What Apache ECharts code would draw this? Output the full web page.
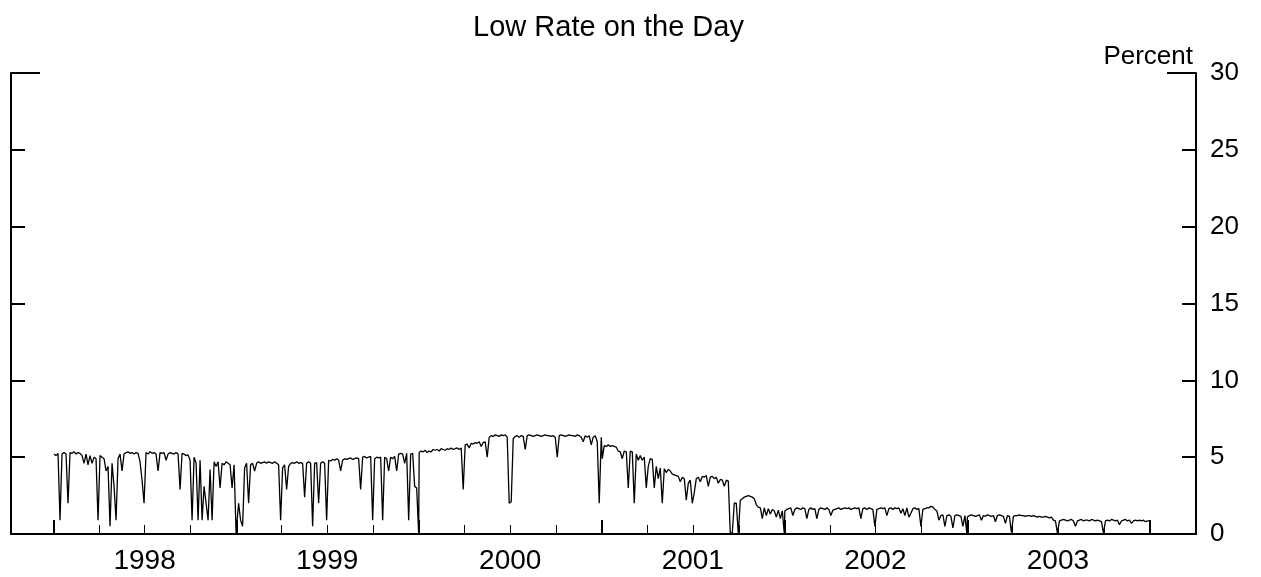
<!DOCTYPE html>
<html>
<head>
<meta charset="utf-8">
<script src="https://cdn.jsdelivr.net/npm/echarts@6/dist/echarts.min.js"></script>
<style>
  html, body { margin: 0; padding: 0; background: #fff; }
  #chart { width: 1261px; height: 577px; }
</style>
</head>
<body>
<div id="chart"></div>
<script>
// Low rate on the day, percent. One value every 4 days from Jan 1 of each year.
const rate1998 = [
  5.2, 5.1, 5.25, 0.9, 5.2, 5.3, 5.2, 2.0, 5.3, 5.25,
  5.35, 5.2, 5.3, 5.25, 5.1, 4.6, 5.2, 4.5, 5.1, 4.6,
  5.0, 4.9, 0.9, 5.1, 5.0, 4.9, 4.1, 4.4, 0.5, 4.6,
  3.1, 0.9, 4.9, 5.2, 4.1, 5.2, 5.3, 5.35, 5.25, 5.3,
  5.2, 5.3, 5.25, 4.7, 3.5, 2.0, 5.3, 5.2, 5.35, 5.25,
  5.3, 5.2, 4.1, 5.3, 5.25, 5.3, 4.8, 5.2, 5.3, 5.25,
  5.2, 5.3, 5.2, 2.9, 5.25, 5.2, 5.1, 5.15, 4.8, 0.9,
  5.0, 4.6, 0.9, 4.8, 0.9, 3.1, 2.0, 0.9, 4.2, 0.9,
  4.7, 4.4, 4.7, 3.0, 4.6, 4.5, 4.7, 4.6, 4.5, 3.0,
  4.5, 0.0
];
const rate1999 = [
  0.5, 2.0, 0.9, 0.5, 4.3, 4.6, 2.0, 4.5, 4.6, 4.1,
  4.6, 4.7, 4.6, 4.65, 4.7, 4.6, 4.7, 4.65, 4.6, 4.7,
  4.6, 4.5, 0.9, 4.3, 4.5, 2.9, 4.4, 4.6, 4.65, 4.6,
  4.7, 4.6, 4.65, 4.6, 2.4, 4.6, 4.7, 4.6, 0.5, 4.6,
  4.65, 2.0, 4.6, 4.7, 4.6, 0.9, 4.8, 4.75, 4.85, 4.8,
  4.9, 4.8, 4.1, 4.8, 4.9, 4.85, 4.9, 4.95, 4.85, 4.9,
  4.95, 4.9, 2.9, 5.0, 5.05, 4.95, 5.0, 5.05, 0.9, 4.9,
  5.0, 4.95, 5.0, 0.9, 5.0, 4.9, 4.1, 5.0, 4.9, 5.05,
  4.1, 5.2, 5.25, 5.2, 4.6, 5.25, 0.9, 5.2, 5.25, 3.1,
  3.0, 0.0
];
const rate2000 = [
  5.3, 5.4, 5.35, 5.45, 5.3, 5.4, 5.35, 5.5, 5.45, 5.5,
  5.4, 5.55, 5.5, 5.45, 5.55, 5.5, 5.6, 5.5, 5.55, 5.6,
  5.5, 5.6, 2.9, 5.8, 5.85, 5.6, 5.9, 5.85, 5.95, 5.9,
  6.0, 5.7, 5.95, 6.0, 5.0, 6.3, 6.4, 6.35, 6.45, 6.4,
  6.35, 6.45, 6.4, 6.45, 6.3, 2.0, 2.1, 6.2, 6.35, 6.4,
  6.3, 6.4, 6.35, 5.5, 6.4, 6.45, 6.4, 6.35, 6.4, 6.45,
  6.4, 6.35, 6.4, 6.45, 6.4, 6.4, 6.35, 6.4, 6.3, 5.0,
  6.4, 6.45, 6.4, 6.35, 6.4, 6.45, 6.4, 6.4, 6.35, 6.45,
  6.4, 6.3, 6.0, 6.4, 6.3, 6.4, 5.8, 6.3, 6.4, 6.0,
  2.0, 6.3
];
const rate2001 = [
  4.9, 5.75, 5.7, 5.8, 5.7, 5.75, 5.7, 5.65, 5.4, 5.35,
  4.9, 5.4, 5.35, 3.0, 5.4, 5.35, 2.0, 5.2, 4.8, 5.1,
  4.8, 5.0, 3.0, 4.4, 4.9, 4.85, 3.0, 4.4, 3.6, 4.3,
  2.0, 4.25, 4.0, 4.2, 4.1, 3.9, 3.85, 3.8, 3.75, 3.4,
  3.7, 3.6, 2.2, 3.3, 3.5, 2.0, 2.7, 3.6, 3.7, 3.4,
  3.75, 3.7, 3.8, 3.1, 3.7, 3.75, 3.6, 3.7, 3.3, 3.55,
  3.5, 3.1, 3.5, 3.45, 0.0, 0.1, 2.0, 2.0, 0.0, 2.2,
  2.3, 2.4, 2.45, 2.5, 2.45, 2.4, 2.3, 1.9, 1.75, 1.7,
  1.0, 1.7, 1.2, 1.65, 1.3, 1.6, 1.5, 1.1, 1.55, 1.0,
  1.5, 0.0
];
const rate2002 = [
  1.5, 1.6, 1.65, 1.7, 1.2, 1.6, 1.7, 1.65, 1.6, 1.7,
  1.65, 1.0, 1.6, 1.7, 1.6, 1.65, 1.0, 1.6, 1.7, 1.65,
  1.6, 1.7, 1.6, 1.2, 1.55, 1.6, 1.65, 1.7, 1.6, 1.65,
  1.7, 1.65, 1.7, 1.6, 1.65, 1.7, 1.65, 1.7, 1.0, 1.65,
  1.7, 1.6, 1.7, 1.65, 1.6, 0.5, 1.6, 1.65, 1.7, 1.65,
  1.7, 1.2, 1.65, 1.7, 1.6, 1.7, 1.65, 1.7, 1.35, 1.65,
  1.2, 1.7, 1.1, 1.35, 1.65, 1.7, 1.6, 1.65, 0.5, 1.6,
  1.65, 1.7, 1.7, 1.8, 1.75, 1.6, 1.5, 0.9, 1.2, 1.25,
  0.5, 1.2, 1.25, 1.15, 0.4, 1.2, 1.25, 1.2, 1.15, 0.5,
  1.2, 0.0
];
const rate2003 = [
  1.1, 1.2, 1.25, 1.2, 1.15, 1.2, 1.25, 0.9, 1.2, 1.15,
  1.25, 1.2, 1.15, 1.2, 0.8, 1.2, 1.25, 1.2, 1.15, 0.7,
  1.2, 1.15, 0.1, 1.15, 1.2, 1.2, 1.25, 1.2, 1.2, 1.15,
  1.2, 1.2, 1.15, 1.2, 1.15, 1.1, 1.15, 1.1, 1.1, 1.15,
  1.1, 1.05, 1.1, 0.9, 0.85, 0.05, 0.85, 0.9, 0.95, 0.9,
  0.85, 0.9, 0.95, 0.85, 0.5, 0.85, 0.9, 0.95, 0.85, 0.9,
  0.9, 0.85, 0.95, 0.9, 0.85, 0.9, 0.85, 0.8, 0.05, 0.85,
  0.9, 0.85, 0.95, 0.9, 0.85, 0.9, 0.6, 0.85, 0.9, 0.95,
  0.85, 0.9, 0.7, 0.85, 0.9, 0.85, 0.9, 0.85, 0.9, 0.8,
  0.85, 0.85
];
const dataYears = [1998, 1999, 2000, 2001, 2002, 2003];
const yearlyRates = [rate1998, rate1999, rate2000, rate2001, rate2002, rate2003];
const stepDays = 4;

const labelYears = [1998, 1999, 2000, 2001, 2002, 2003];
const yearTickYears = [1998, 1999, 2000, 2001, 2002, 2003, 2004];
const quarterMonths = [3, 6, 9];
const yTicks = [0, 5, 10, 15, 20, 25, 30];

const DAY = 86400000;
const xMin = Date.UTC(1997, 9, 7);
const xMax = Date.UTC(2004, 3, 2);

const seriesData = [];
dataYears.forEach((yr, k) => {
  const start = Date.UTC(yr, 0, 1);
  yearlyRates[k].forEach((v, i) => seriesData.push([start + i * stepDays * DAY, v]));
});

const yearTicks = yearTickYears.map(y => Date.UTC(y, 0, 1));
const quarterTicks = [];
labelYears.forEach(y => quarterMonths.forEach(m => quarterTicks.push(Date.UTC(y, m, 1))));
const labelPos = labelYears.map(y => Date.UTC(y, 6, 1));

const FONT = 'Liberation Sans, Arial, Helvetica, sans-serif';
const BLACK = '#000';

const chart = echarts.init(document.getElementById('chart'), null, { renderer: 'canvas' });
const baseX = {
  type: 'value', min: xMin, max: xMax, position: 'bottom', offset: 0,
  splitLine: { show: false }
};
const baseY = {
  type: 'value', min: 0, max: 30, interval: 5, offset: 0,
  splitLine: { show: false }
};
chart.setOption({
  animation: false,
  backgroundColor: '#fff',
  textStyle: { fontFamily: FONT, color: BLACK },
  title: {
    text: 'Low Rate on the Day',
    left: 603.5, top: 8, textAlign: 'center',
    textStyle: { fontFamily: FONT, fontSize: 29, fontWeight: 'normal', color: BLACK }
  },
  grid: { left: 11, right: 65, top: 73, bottom: 43, containLabel: false, outerBoundsMode: 'none' },
  xAxis: [
    Object.assign({}, baseX, {
      axisLine: { show: true, lineStyle: { color: BLACK, width: 2 } },
      axisTick: { show: true, inside: true, length: 9, lineStyle: { color: BLACK, width: 1 }, customValues: quarterTicks },
      axisLabel: {
        show: true, customValues: labelPos, margin: 13,
        formatter: v => String(new Date(v).getUTCFullYear()),
        fontFamily: FONT, fontSize: 28, color: BLACK
      }
    }),
    Object.assign({}, baseX, {
      axisLine: { show: false },
      axisTick: { show: true, inside: true, length: 14, lineStyle: { color: BLACK, width: 2 }, customValues: yearTicks },
      axisLabel: { show: false }
    })
  ],
  yAxis: [
    Object.assign({}, baseY, {
      position: 'right',
      axisLine: { show: true, lineStyle: { color: BLACK, width: 2 } },
      axisTick: { show: true, inside: true, length: 14, lineStyle: { color: BLACK, width: 2 }, customValues: yTicks },
      axisLabel: { show: true, margin: 14, fontFamily: FONT, fontSize: 26, color: BLACK, customValues: yTicks },
      name: 'Percent', nameLocation: 'end', nameGap: 3,
      nameTextStyle: { fontFamily: FONT, fontSize: 26, color: BLACK, align: 'right', verticalAlign: 'bottom', padding: [0, 3, 0, 0] }
    }),
    Object.assign({}, baseY, {
      position: 'left',
      axisLine: { show: true, lineStyle: { color: BLACK, width: 2 } },
      axisTick: { show: true, inside: true, length: 14, lineStyle: { color: BLACK, width: 2 }, customValues: yTicks },
      axisLabel: { show: false }
    }),
    Object.assign({}, baseY, {
      position: 'right',
      axisLine: { show: false },
      axisTick: { show: true, inside: true, length: 29, lineStyle: { color: BLACK, width: 2 }, customValues: [30] },
      axisLabel: { show: false }
    }),
    Object.assign({}, baseY, {
      position: 'left',
      axisLine: { show: false },
      axisTick: { show: true, inside: true, length: 29, lineStyle: { color: BLACK, width: 2 }, customValues: [30] },
      axisLabel: { show: false }
    })
  ],
  series: [{
    type: 'line',
    name: 'Low rate',
    xAxisIndex: 0, yAxisIndex: 0,
    data: seriesData,
    showSymbol: false, symbol: 'none',
    sampling: null,
    lineStyle: { color: BLACK, width: 1.3 },
    silent: true
  }]
});
</script>
</body>
</html>
